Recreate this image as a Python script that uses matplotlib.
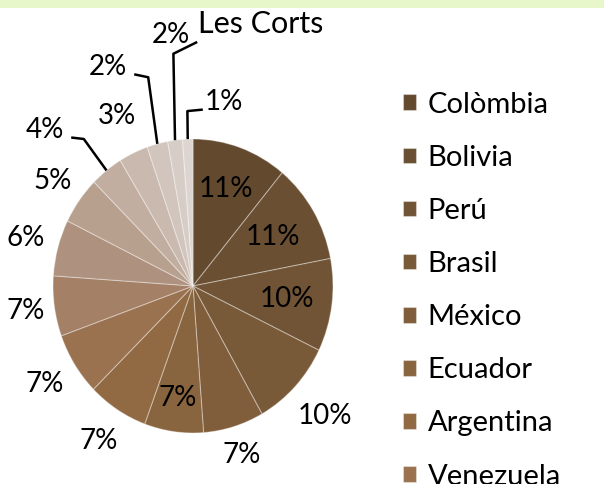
import numpy as np
import matplotlib
matplotlib.use("Agg")
import matplotlib.pyplot as plt
from matplotlib.patches import Rectangle

plt.rcParams['font.family'] = ['Lato', 'DejaVu Sans']
plt.rcParams['font.weight'] = 'normal'
plt.rcParams['text.color'] = 'black'

title = "Les Corts"
countries = ["Colòmbia", "Bolivia", "Perú", "Brasil", "México", "Ecuador",
             "Argentina", "Venezuela"]
# shares, clockwise from 12 o'clock
shares = [11.0, 11.0, 10.2, 9.6, 7.0, 6.8, 7.0, 6.9, 6.6, 6.2, 5.2, 3.8,
          3.4, 2.4, 1.7, 1.2]
colors = ["#634a2f", "#6a4f33", "#715436", "#785938", "#805e3b", "#88643f",
          "#916a43", "#9a7250", "#a38066", "#ae917e", "#b8a08f", "#c1aea0",
          "#cab9ae", "#d2c5bd", "#d7cdc7", "#ddd5d1"]

# label placement: radius factor (1 = pie edge) for each slice
label_r = [0.70, 0.66, 0.68, 1.29, 1.20, 0.77, 1.25, 1.25, 1.21, 1.24,
           1.23, None, 1.28, None, None, None]
# slices with leader lines: text position (data units) and elbow
leaders = {11: ((-1.06, 1.06), (-0.78, 1.00)),
           13: ((-0.61, 1.49), (-0.32, 1.42)),
           14: ((-0.16, 1.71), (-0.14, 1.58)),
           15: ((0.22, 1.25), (-0.04, 1.19))}

fig = plt.figure(figsize=(6.04, 4.84), dpi=100)
fig.patch.set_facecolor("white")
fig.patches.append(Rectangle((0, 1 - 8 / 484), 1, 8 / 484, transform=fig.transFigure,
                             facecolor="#e7f7c9", edgecolor="none"))

ax = fig.add_axes([0, 0, 1, 1])
wedges, _ = ax.pie(shares, colors=colors, startangle=90, counterclock=False,
                   wedgeprops=dict(edgecolor=(1, 1, 1, 0.35), linewidth=0.8))
ax.set_aspect("auto")
ax.set_xlim(-193 / 140, -193 / 140 + 604 / 140)
ax.set_ylim(-198 / 147, -198 / 147 + 484 / 147)
ax.axis("off")

fs = 20
for i, w in enumerate(wedges):
    lab = f"{round(shares[i])}%"
    mid = np.deg2rad((w.theta1 + w.theta2) / 2)
    if i in leaders:
        (tx, ty), (ex, ey) = leaders[i]
        px, py = np.cos(mid), np.sin(mid)
        ax.plot([tx + (0.19 if tx < ex else -0.15), ex, px * 1.0],
                [ty - 0.05, ey, py * 1.0], color="black", lw=1.8,
                solid_capstyle="butt")
        ax.text(tx, ty, lab, ha="center", va="center", fontsize=fs)
    else:
        r = label_r[i]
        ax.text(r * np.cos(mid), r * np.sin(mid), lab, ha="center", va="center",
                fontsize=fs)

fig.text(261 / 604, 1 - 33 / 484, title, ha="center", va="baseline", fontsize=22)

fig.legend(wedges[:len(countries)], countries, loc="upper left",
           bbox_to_anchor=(391 / 604, 1 - 80 / 484), frameon=False,
           fontsize=21, handlelength=0.45, handleheight=0.45,
           handletextpad=0.4, labelspacing=0.93, borderaxespad=0)

fig.savefig("out.png", dpi=100)
